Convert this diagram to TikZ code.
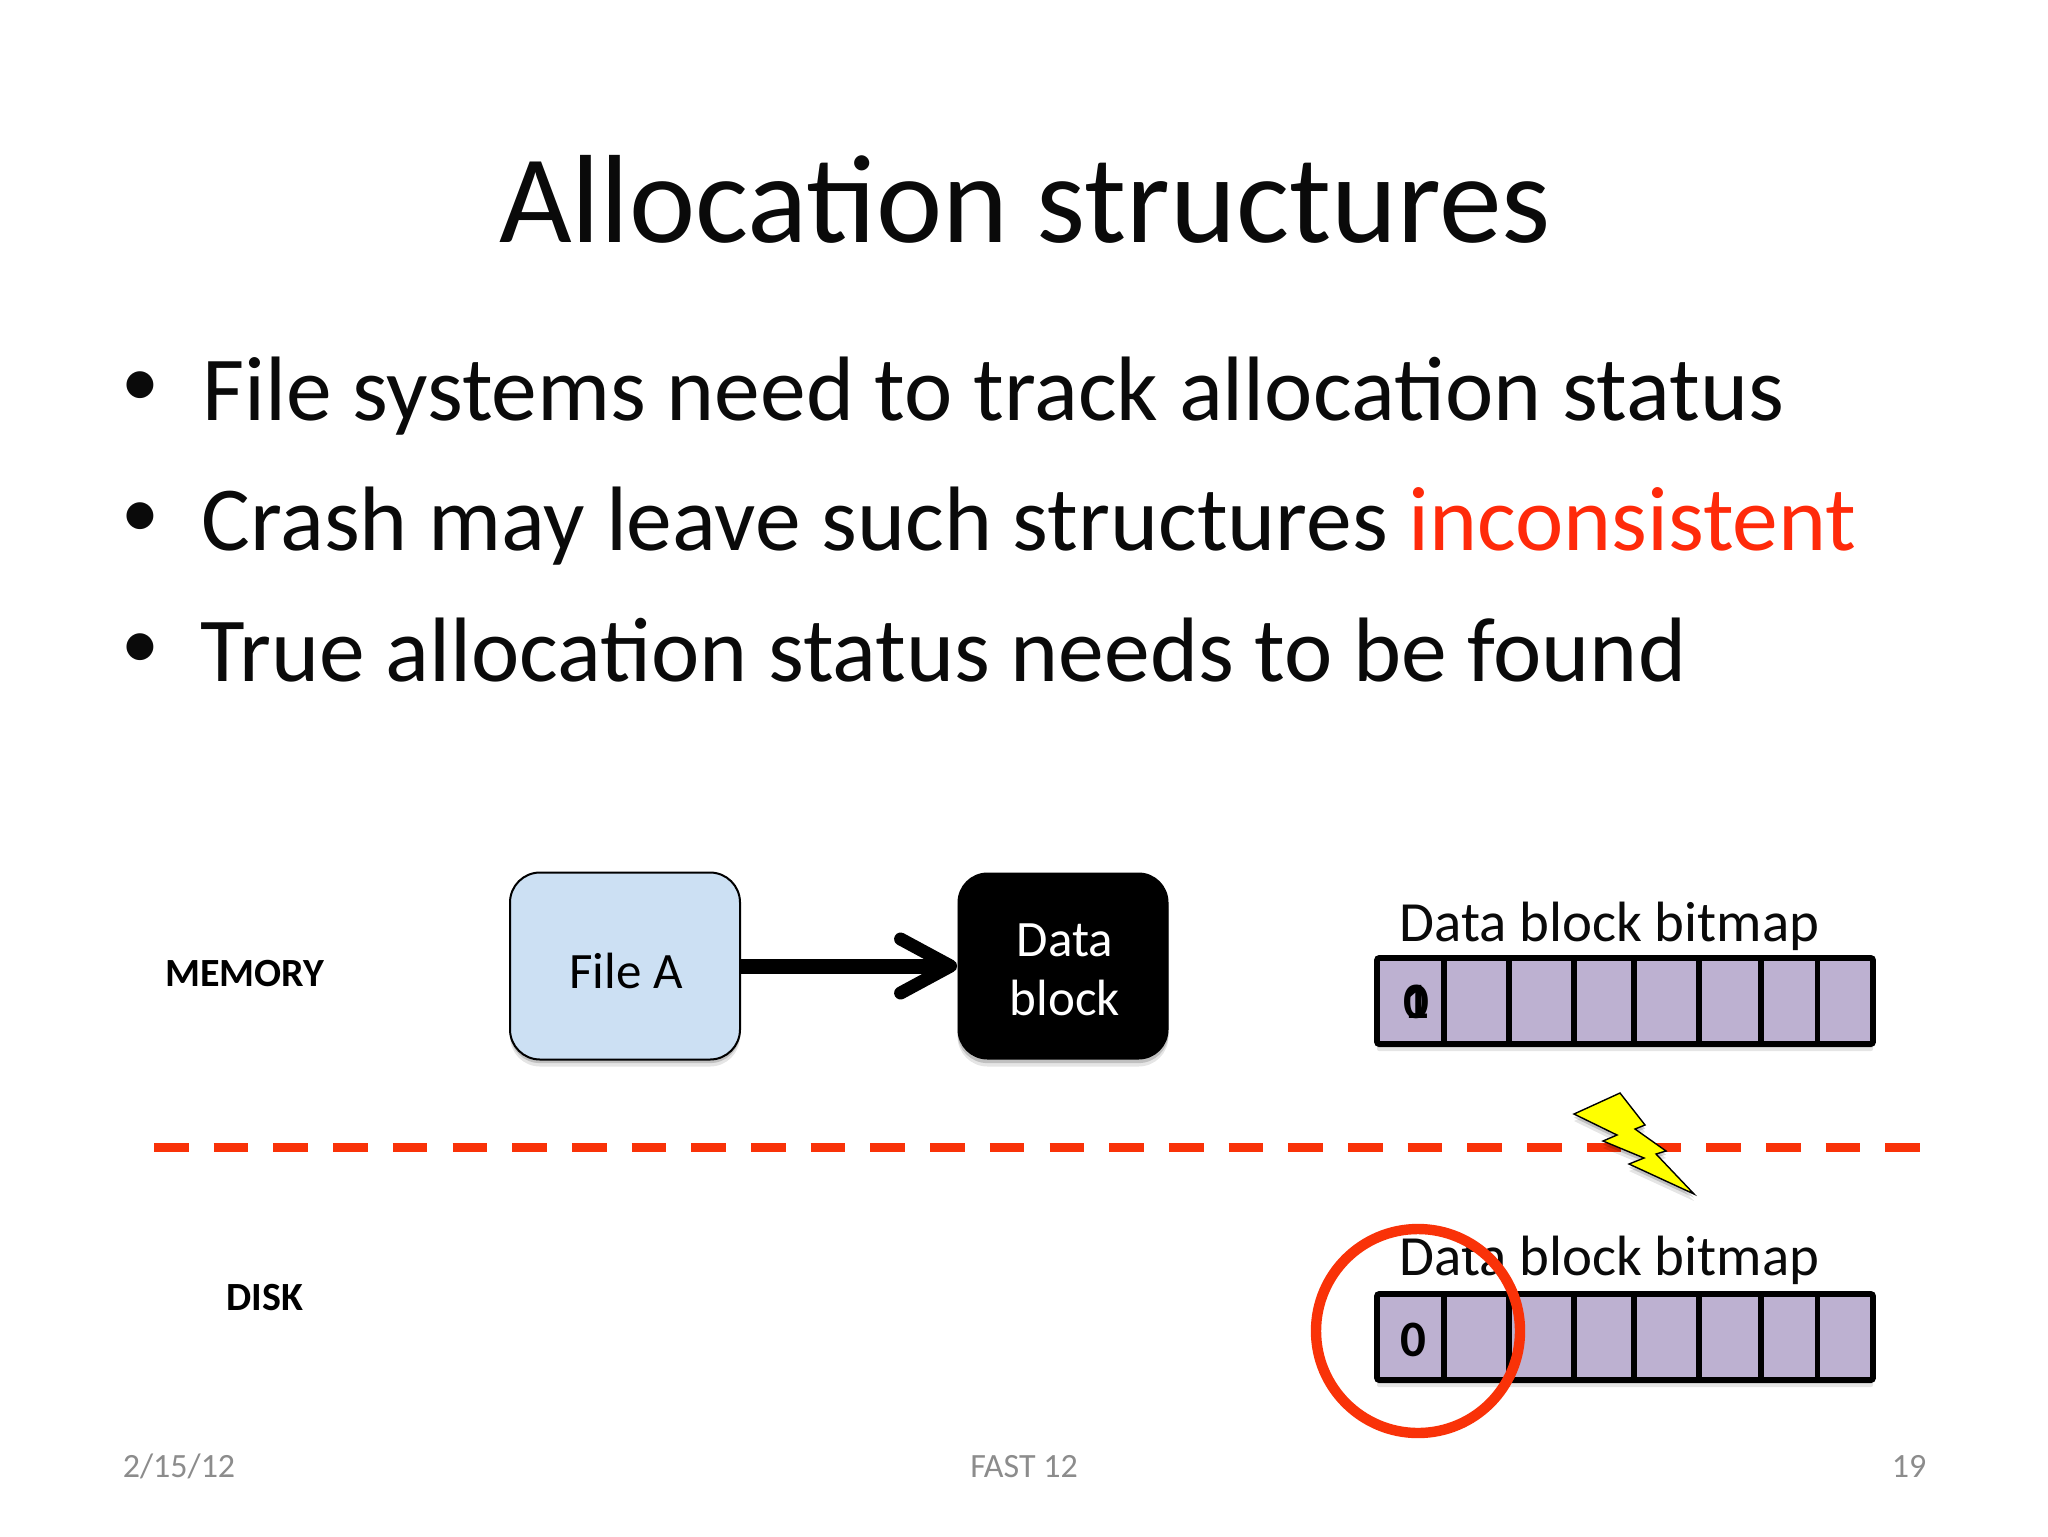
\documentclass[tikz,border=0pt]{standalone}
\usepackage{fontspec}
\setmainfont{Carlito}
\usetikzlibrary{arrows.meta,shadows,calc}
\definecolor{titleink}{HTML}{0A0A0A}
\definecolor{redline}{HTML}{F93208}
\definecolor{redword}{HTML}{FF2A0A}
\definecolor{filefill}{HTML}{CCE0F3}
\definecolor{cellfill}{HTML}{BDB1D1}
\definecolor{footgray}{HTML}{8C8C8C}
\definecolor{boltfill}{HTML}{FFFF00}
\newcommand{\bitmaprow}[2]{%
  \path[softshadow,fill=cellfill,draw=black,line width=2.8pt,rounded corners=1pt] (1377,#1) rectangle (1873,#2);
  \foreach \cx in {1444,1509,1574,1634,1699,1761,1817.5}
    \draw[line width=2.8pt] (\cx,#1) -- (\cx,#2);
}
\tikzset{
  x=0.5pt,y=-0.5pt,
  softshadow/.style={drop shadow={shadow xshift=0pt,shadow yshift=-3.5pt,opacity=.10,fill=black},drop shadow={shadow xshift=0pt,shadow yshift=-1.8pt,opacity=.16,fill=black}},
  titletext/.style={inner sep=0pt,anchor=base,font=\fontsize{62.75}{70}\selectfont,text=titleink},
  bodytext/.style={inner sep=0pt,anchor=base west,font=\fontsize{45.76}{50}\selectfont,text=titleink},
  bullettext/.style={inner sep=0pt,font=\fontsize{38}{42}\selectfont,text=titleink},
  boxtext/.style={inner sep=0pt,font=\fontsize{25.5}{29.5}\selectfont,align=center},
  blockbox/.style={minimum width=115pt,minimum height=93.5pt,rounded corners=15pt,inner sep=0pt,softshadow},
  bitlabel/.style={inner sep=0pt,anchor=base west,font=\fontsize{28.4}{32}\selectfont,text=titleink},
  sidelabel/.style={inner sep=0pt,font=\fontsize{20}{24}\selectfont\bfseries,text=black},
  bittext/.style={inner sep=0pt,font=\fontsize{25.5}{30}\selectfont\bfseries,text=black},
  foottext/.style={inner sep=0pt,anchor=base,font=\fontsize{17}{20}\selectfont,text=footgray},
}
\begin{document}
\begin{tikzpicture}
\path[use as bounding box,fill=white] (0,0) rectangle (2048,1536);
\node[titletext] (title) at (1025,242) {Allocation structures};
\node[bullettext] (b1) at (140,389) {•};
\node[bodytext] (t1) at (202,420) {File systems need to track allocation status};
\node[bullettext] (b2) at (140,520) {•};
\node[bodytext] (t2) at (201,550) {Crash may leave such structures \textcolor{redword}{inconsistent}};
\node[bullettext] (b3) at (140,651) {•};
\node[bodytext] (t3) at (200,681) {True allocation status needs to be found};
\node[sidelabel] (memory) at (245,974) {MEMORY};
\node[sidelabel] (disk) at (265,1298) {DISK};
\node[blockbox,draw=black,line width=1pt,fill=filefill] (filea) at (625,966) {};
\node[boxtext] (fileatext) at (626,971) {File A};
\node[blockbox,fill=black,minimum width=105.5pt] (datablock) at (1063,966) {};
\node[boxtext,text=white] (datablocktext) at (1065,970) {Data\\block};
\draw[line width=7.5pt,-{Straight Barb[length=25pt,width=27pt,line width=6.5pt,round]}] (filea.east) -- (datablock.west);
\node[bitlabel] (bitmaptop) at (1399,941) {Data block bitmap};
\bitmaprow{958}{1044}
\node[bittext] (bitone) at (1416,1002) {1};
\node[bittext] (bitzero) at (1416,1002) {0};
\draw[redline,line width=4.5pt,dash pattern=on 17.3pt off 12.55pt] (154,1147) -- (1921,1147);
\path[fill=boltfill,draw=black,line width=.7pt,softshadow] (1574,1114) -- (1620,1093) -- (1645,1125) -- (1635,1129) -- (1666,1151) -- (1656,1154) -- (1694,1194) -- (1629,1164) -- (1644,1158) -- (1603,1141) -- (1617,1135) -- cycle;
\node[bitlabel] (bitmapbot) at (1399,1275) {Data block bitmap};
\bitmaprow{1294}{1380}
\node[bittext] (bitdisk) at (1413,1340) {0};
\draw[redline,line width=5.2pt] (1418,1331) ellipse [x radius=102,y radius=102];
\node[foottext] (date) at (179,1477) {2/15/12};
\node[foottext] (venue) at (1024,1477) {FAST 12};
\node[foottext] (page) at (1909,1477) {19};
\end{tikzpicture}
\end{document}
